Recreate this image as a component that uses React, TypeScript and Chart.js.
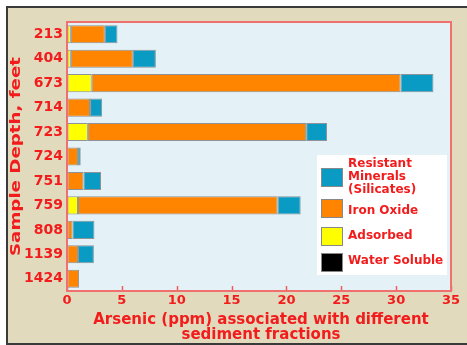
import React, { useEffect, useRef } from "react";
import { Chart, registerables } from "chart.js";

Chart.register(...registerables);

const depths = ["213", "404", "673", "714", "723", "724", "751", "759", "808", "1139", "1424"];
const waterSoluble = [0.05, 0.05, 0.05, 0.05, 0.05, 0.05, 0.05, 0.05, 0.05, 0.05, 0.05];
const adsorbed = [0.3, 0.3, 2.2, 0, 1.85, 0, 0, 0.95, 0, 0, 0];
const ironOxide = [3.1, 5.65, 28.15, 2.05, 19.9, 0.95, 1.45, 18.2, 0.45, 0.95, 1.05];
const resistant = [1.15, 2.1, 3.0, 1.1, 1.9, 0.25, 1.6, 2.1, 2.0, 1.45, 0];
const xTicks = [0, 5, 10, 15, 20, 25, 30, 35];

const RED = "#f21c1c";
const FONT = "'DejaVu Sans', sans-serif";
const C_BLUE = "#0a9bc4";
const C_ORANGE = "#ff8400";
const C_YELLOW = "#ffff00";
const C_BLACK = "#000000";

const legendItems = [
  { color: C_BLUE, lines: ["Resistant", "Minerals", "(Silicates)"], top: 168, textY: [164, 177, 190] },
  { color: C_ORANGE, lines: ["Iron Oxide"], top: 199, textY: [211] },
  { color: C_YELLOW, lines: ["Adsorbed"], top: 227, textY: [236] },
  { color: C_BLACK, lines: ["Water Soluble"], top: 253, textY: [261] },
];

const decor = {
  id: "decor",
  beforeDraw(chart: any) {
    const ctx = chart.ctx;
    const { left, right, top, bottom } = chart.chartArea;
    ctx.save();
    ctx.fillStyle = "#e2dabd";
    ctx.fillRect(8, 8, 459, 335);
    ctx.fillStyle = "#3a3a3a";
    ctx.fillRect(6, 6, 461, 2);
    ctx.fillRect(6, 6, 2, 339);
    ctx.fillRect(6, 343, 461, 2);
    ctx.fillStyle = "#e4f2f8";
    ctx.fillRect(left, top, right - left, bottom - top);
    ctx.restore();
  },
  afterDatasetsDraw(chart: any) {
    const ctx = chart.ctx;
    const { left, right, top, bottom } = chart.chartArea;
    const xs = chart.scales.x;
    ctx.save();
    ctx.strokeStyle = "#f05a5a";
    ctx.lineWidth = 1.5;
    xTicks.forEach((v) => {
      const px = Math.round(xs.getPixelForValue(v)) + 0.5;
      ctx.beginPath();
      ctx.moveTo(px, bottom);
      ctx.lineTo(px, bottom - 5);
      ctx.stroke();
    });
    ctx.strokeStyle = "#f07070";
    ctx.lineWidth = 2;
    ctx.strokeRect(left, top, right - left, bottom - top);
    ctx.fillStyle = "#ffffff";
    ctx.fillRect(317, 155, 130, 120);
    legendItems.forEach((it) => {
      ctx.fillStyle = it.color;
      ctx.fillRect(321, it.top, 22, 19);
      ctx.strokeStyle = "#888";
      ctx.lineWidth = 1;
      ctx.strokeRect(321.5, it.top + 0.5, 21, 18);
      ctx.fillStyle = RED;
      ctx.font = `bold 12px ${FONT}`;
      ctx.textAlign = "left";
      ctx.textBaseline = "middle";
      it.lines.forEach((ln, i) => ctx.fillText(ln, 348, it.textY[i]));
    });
    ctx.fillStyle = RED;
    ctx.font = `bold 15px ${FONT}`;
    ctx.textAlign = "center";
    ctx.textBaseline = "middle";
    ctx.fillText("Arsenic (ppm) associated with different", 261, 320);
    ctx.fillText("sediment fractions", 261, 335);
    ctx.translate(16, (top + bottom) / 2);
    ctx.rotate(-Math.PI / 2);
    ctx.scale(1.3, 1);
    ctx.font = `bold 14px ${FONT}`;
    ctx.fillText("Sample Depth, feet", 0, 0);
    ctx.restore();
  },
};

export default function App() {
  const ref = useRef<HTMLCanvasElement>(null);
  useEffect(() => {
    const mk = (label: string, data: number[], color: string) => ({
      label,
      data,
      backgroundColor: color,
      borderColor: "rgba(70,70,70,0.55)",
      borderWidth: 1,
      borderSkipped: false,
      barPercentage: 0.74,
      categoryPercentage: 1,
    });
    const chart = new Chart(ref.current!, {
      type: "bar",
      data: {
        labels: depths,
        datasets: [
          mk("Water Soluble", waterSoluble, C_BLACK),
          mk("Adsorbed", adsorbed, C_YELLOW),
          mk("Iron Oxide", ironOxide, C_ORANGE),
          mk("Resistant Minerals (Silicates)", resistant, C_BLUE),
        ],
      },
      options: {
        indexAxis: "y",
        animation: false,
        responsive: false,
        maintainAspectRatio: false,
        layout: { padding: { top: 22, right: 16, left: 0, bottom: 0 } },
        plugins: { legend: { display: false }, tooltip: { enabled: false } },
        scales: {
          x: {
            stacked: true,
            min: 0,
            max: 35,
            grid: { display: false, drawTicks: false },
            border: { display: false },
            ticks: {
              stepSize: 5,
              color: RED,
              font: { family: FONT, weight: "bold", size: 13 },
              padding: 2,
            },
            afterFit(s: any) {
              s.height = 54;
            },
          },
          y: {
            stacked: true,
            grid: { display: false, drawTicks: false },
            border: { display: false },
            ticks: {
              color: RED,
              font: { family: FONT, weight: "bold", size: 14 },
              padding: 4,
            },
            afterFit(s: any) {
              s.width = 67;
            },
          },
        },
      },
      plugins: [decor],
    });
    return () => chart.destroy();
  }, []);
  return (
    <div style={{ position: "absolute", left: 0, top: 0, width: 467, height: 345 }}>
      <canvas ref={ref} width={467} height={345} style={{ display: "block" }} />
    </div>
  );
}
